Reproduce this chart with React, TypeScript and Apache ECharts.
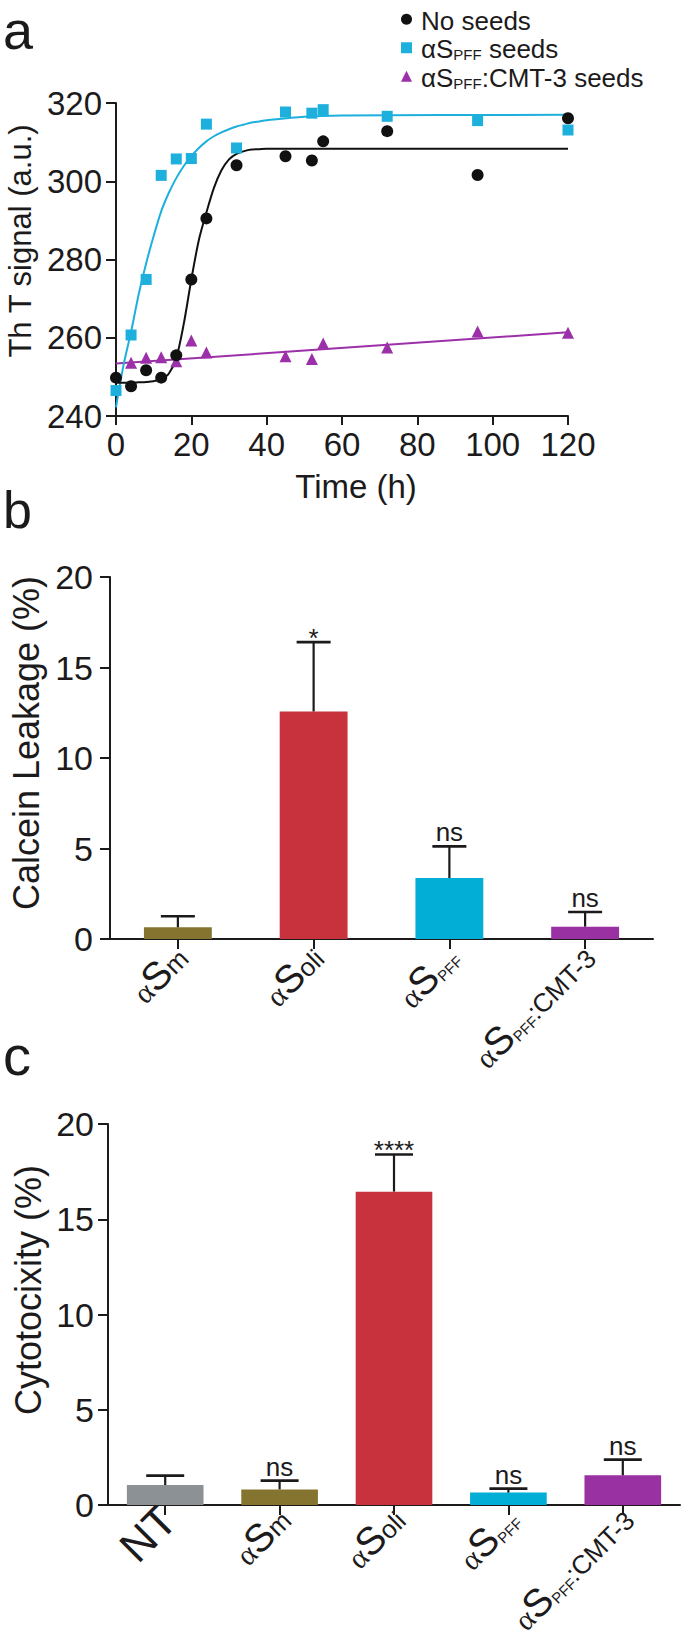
import React, { useEffect, useRef } from 'react';
import * as echarts from 'echarts';

// ---------- Panel a data ----------
const timeHours = [0, 4, 8, 12, 16, 20, 24, 32, 45, 52, 55, 72, 96, 120];
const noSeeds = [249.8, 247.6, 251.7, 249.8, 255.5, 274.9, 290.5, 304.1, 306.4, 305.3, 310.2, 312.8, 301.6, 316.1];
const pffSeeds = [246.5, 260.7, 274.9, 301.5, 305.7, 305.8, 314.6, 308.5, 317.7, 317.4, 318.3, 316.6, 315.5, 313.1];
const cmtTimes = [4, 8, 12, 16, 20, 24, 45, 52, 55, 72, 96, 120];
const cmtSeeds = [253.6, 254.9, 255.0, 254.0, 259.3, 256.2, 255.3, 254.6, 258.5, 257.5, 261.6, 261.3];

// fitted curves
const noSeedsFitT = [0, 2, 4, 6, 8, 10, 12, 14, 16, 18, 20, 22, 24, 26, 28, 30, 32, 34, 36, 38, 40, 120];
const noSeedsFit = [248.5, 248.5, 248.5, 248.6, 248.7, 248.9, 249.4, 250.8, 254.8, 263.6, 274.9, 285.0, 292.0, 298.3, 302.8, 305.6, 307.0, 307.7, 308.1, 308.2, 308.3, 308.3];
const pffFitT = [0, 2, 4, 6, 8, 10, 12, 14, 16, 18, 20, 22, 24, 26, 28, 30, 32, 34, 36, 38, 40, 50, 60, 120];
const pffFit = [242.2, 253.0, 261.5, 271.0, 279.0, 286.0, 292.3, 297.0, 300.8, 303.9, 306.4, 308.5, 310.2, 311.5, 312.5, 313.3, 314.0, 314.5, 315.0, 315.3, 315.6, 316.5, 316.8, 317.0];
const cmtFitT = [0, 120];
const cmtFit = [253.4, 261.4];

const timeTicks = [0, 20, 40, 60, 80, 100, 120];
const thtTicks = [240, 260, 280, 300, 320];

// ---------- Panel b data ----------
const leakageCats = ['αSm', 'αSoli', 'αSPFF', 'αSPFF:CMT-3'];
const leakageMean = [0.65, 12.57, 3.37, 0.68];
const leakageErr = [0.61, 3.83, 1.75, 0.81];
const leakageSig = ['', '*', 'ns', 'ns'];

// ---------- Panel c data ----------
const cytoCats = ['NT', 'αSm', 'αSoli', 'αSPFF', 'αSPFF:CMT-3'];
const cytoMean = [1.05, 0.82, 16.45, 0.65, 1.56];
const cytoErr = [0.49, 0.46, 1.95, 0.21, 0.82];
const cytoSig = ['', 'ns', '****', 'ns', 'ns'];

const percentTicks = [0, 5, 10, 15, 20];

// ---------- styles ----------
const FONT = 'Liberation Sans';
const SERIF = 'Liberation Serif';
const INK = '#1c1a1b';
const catColor: Record<string, string> = {
  NT: '#8c9195',
  'αSm': '#85742f',
  'αSoli': '#c8323c',
  'αSPFF': '#02aed6',
  'αSPFF:CMT-3': '#9a31a3',
};
const BLUE = '#1eb0dd';
const PURPLE = '#9c30a8';

type Token = { text: string; size: number; family: string; dy: number };

// split a category name into styled pieces (Greek alpha, big S, small rest, subscript PFF)
function catTokens(c: string): Token[] {
  if (!c.startsWith('αS')) return [{ text: c, size: 44, family: FONT, dy: -1 }];
  const toks: Token[] = [
    { text: 'α', size: 30, family: SERIF, dy: 3 },
    { text: 'S', size: 39, family: FONT, dy: 0 },
  ];
  let rest = c.slice(2);
  if (rest.startsWith('PFF')) {
    toks.push({ text: 'PFF', size: 15, family: FONT, dy: 10.5 });
    rest = rest.slice(3);
  }
  if (rest) toks.push({ text: rest, size: 26, family: FONT, dy: 4.5 });
  return toks;
}

let measureCtx: CanvasRenderingContext2D | null = null;
function measure(text: string, size: number, family: string): number {
  if (!measureCtx) measureCtx = document.createElement('canvas').getContext('2d');
  if (!measureCtx) return text.length * size * 0.55;
  measureCtx.font = `${size}px "${family}"`;
  return measureCtx.measureText(text).width;
}

function legendLabel(name: string): string {
  if (name.startsWith('αSPFF')) {
    return `{t|αS}{p|PFF}{t|${name.slice(5)}}`;
  }
  return `{t|${name}}`;
}

function zip(xs: number[], ys: number[]) {
  return xs.map((x, i) => [x, ys[i]]);
}

function makeErrorRender(sigs: string[], capHalf: number) {
  return (params: any, api: any) => {
    const i = params.dataIndex;
    const m = api.value(1);
    const e = api.value(2);
    const base = api.coord([i, m]);
    const top = api.coord([i, m + e]);
    const children: any[] = [
      { type: 'line', shape: { x1: base[0], y1: base[1], x2: top[0], y2: top[1] }, style: { stroke: INK, lineWidth: 2.2 } },
      { type: 'line', shape: { x1: top[0] - capHalf, y1: top[1], x2: top[0] + capHalf, y2: top[1] }, style: { stroke: INK, lineWidth: 2.6 } },
    ];
    const sig = sigs[i];
    if (sig) {
      const star = sig.indexOf('*') >= 0;
      children.push({
        type: 'text',
        x: top[0],
        y: star ? top[1] + 9 : top[1] - 1,
        style: { text: sig, fontFamily: FONT, fontSize: 26, fill: INK, align: 'center', verticalAlign: 'bottom' },
      });
    }
    return { type: 'group', children };
  };
}

function valueAxisCommon(min: number, max: number, interval: number, labelMargin: number, labelShift: number, fontSize: number) {
  return {
    type: 'value',
    min,
    max,
    interval,
    splitLine: { show: false },
    axisLine: { show: true, lineStyle: { color: INK, width: 2 } },
    axisTick: { show: true, length: 10, lineStyle: { color: INK, width: 2 } },
    axisLabel: {
      color: INK,
      fontFamily: FONT,
      fontSize,
      margin: labelMargin,
      padding: [0, 0, labelShift * 2, 0],
    },
  };
}

function categoryAxis(gridIndex: number, cats: string[]) {
  return {
    type: 'category',
    gridIndex,
    data: cats,
    axisLine: { show: true, lineStyle: { color: INK, width: 2 } },
    axisTick: { show: true, alignWithLabel: true, length: 10, lineStyle: { color: INK, width: 2 } },
    axisLabel: { show: false },
  };
}

const ROT = Math.PI / 4;

export default function App() {
  const ref = useRef<HTMLDivElement>(null);

  useEffect(() => {
    document.body.style.margin = '0';
    if (!ref.current) return;
    const chart = echarts.init(ref.current, undefined, { renderer: 'svg' });

    const baseGraphic: any[] = [
      { type: 'text', x: 3, y: 30, style: { text: 'a', fontFamily: FONT, fontSize: 54, fill: INK, align: 'left', verticalAlign: 'middle' } },
      { type: 'text', x: 3, y: 510, style: { text: 'b', fontFamily: FONT, fontSize: 52, fill: INK, align: 'left', verticalAlign: 'middle' } },
      { type: 'text', x: 3, y: 1055, style: { text: 'c', fontFamily: FONT, fontSize: 56, fill: INK, align: 'left', verticalAlign: 'middle' } },
      { type: 'text', x: 20, y: 241, rotation: Math.PI / 2, style: { text: 'Th T signal (a.u.)', fontFamily: FONT, fontSize: 31, fill: INK, align: 'center', verticalAlign: 'middle' } },
      { type: 'text', x: 356, y: 486, style: { text: 'Time (h)', fontFamily: FONT, fontSize: 33, fill: INK, align: 'center', verticalAlign: 'middle' } },
      { type: 'text', x: 26, y: 743, rotation: Math.PI / 2, style: { text: 'Calcein Leakage (%)', fontFamily: FONT, fontSize: 36, fill: INK, align: 'center', verticalAlign: 'middle' } },
      { type: 'text', x: 28, y: 1290, rotation: Math.PI / 2, style: { text: 'Cytotocixity (%)', fontFamily: FONT, fontSize: 36, fill: INK, align: 'center', verticalAlign: 'middle' } },
    ];

    const option: any = {
      animation: false,
      backgroundColor: '#ffffff',
      grid: [
        { left: 116, top: 103, width: 452, height: 313 },
        { left: 110, top: 577, width: 543, height: 362 },
        { left: 108, top: 1124, width: 572, height: 381 },
      ],
      legend: {
        data: ['No seeds', 'αSPFF seeds', 'αSPFF:CMT-3 seeds'],
        orient: 'vertical',
        left: 396,
        top: 0,
        itemWidth: 11,
        itemHeight: 11,
        itemGap: 0,
        selectedMode: false,
        formatter: legendLabel,
        textStyle: {
          color: INK,
          fontFamily: FONT,
          fontSize: 26,
          lineHeight: 28.5,
          padding: [0, 0, 0, 4],
          rich: {
            t: { fontFamily: FONT, fontSize: 26, color: INK, verticalAlign: 'bottom' },
            p: { fontFamily: FONT, fontSize: 15, color: INK, verticalAlign: 'bottom' },
          },
        },
      },
      xAxis: [
        {
          type: 'value',
          gridIndex: 0,
          min: timeTicks[0],
          max: timeTicks[timeTicks.length - 1],
          interval: timeTicks[1] - timeTicks[0],
          splitLine: { show: false },
          axisLine: { show: true, lineStyle: { color: INK, width: 2 } },
          axisTick: { show: true, length: 9, lineStyle: { color: INK, width: 2 } },
          axisLabel: { color: INK, fontFamily: FONT, fontSize: 33, margin: 12 },
        },
        categoryAxis(1, leakageCats),
        categoryAxis(2, cytoCats),
      ],
      yAxis: [
        { gridIndex: 0, ...valueAxisCommon(thtTicks[0], thtTicks[thtTicks.length - 1], thtTicks[1] - thtTicks[0], 14, 6, 33) },
        { gridIndex: 1, ...valueAxisCommon(percentTicks[0], percentTicks[percentTicks.length - 1], percentTicks[1] - percentTicks[0], 17, 11, 34) },
        { gridIndex: 2, ...valueAxisCommon(percentTicks[0], percentTicks[percentTicks.length - 1], percentTicks[1] - percentTicks[0], 14, 10, 34) },
      ],
      series: [
        {
          type: 'line', name: 'cmt fit', xAxisIndex: 0, yAxisIndex: 0, data: zip(cmtFitT, cmtFit),
          showSymbol: false, lineStyle: { color: PURPLE, width: 2 }, silent: true, z: 1,
        },
        {
          type: 'line', name: 'pff fit', xAxisIndex: 0, yAxisIndex: 0, data: zip(pffFitT, pffFit),
          showSymbol: false, smooth: 0.3, lineStyle: { color: BLUE, width: 2 }, silent: true, z: 1,
        },
        {
          type: 'line', name: 'no seeds fit', xAxisIndex: 0, yAxisIndex: 0, data: zip(noSeedsFitT, noSeedsFit),
          showSymbol: false, smooth: 0.3, lineStyle: { color: '#111111', width: 2 }, silent: true, z: 1,
        },
        {
          type: 'scatter', name: 'αSPFF:CMT-3 seeds', xAxisIndex: 0, yAxisIndex: 0, data: zip(cmtTimes, cmtSeeds),
          symbol: 'triangle', symbolSize: 12, itemStyle: { color: PURPLE, opacity: 1 }, z: 3,
        },
        {
          type: 'scatter', name: 'No seeds', xAxisIndex: 0, yAxisIndex: 0, data: zip(timeHours, noSeeds),
          symbol: 'circle', symbolSize: 12, itemStyle: { color: '#111111', opacity: 1 }, z: 4,
        },
        {
          type: 'scatter', name: 'αSPFF seeds', xAxisIndex: 0, yAxisIndex: 0, data: zip(timeHours, pffSeeds),
          symbol: 'rect', symbolSize: 11, itemStyle: { color: BLUE, opacity: 1 }, z: 5,
        },
        {
          type: 'bar', name: 'Calcein Leakage', xAxisIndex: 1, yAxisIndex: 1, barWidth: '50%',
          data: leakageMean.map((v, i) => ({ value: v, itemStyle: { color: catColor[leakageCats[i]] } })),
        },
        {
          type: 'custom', name: 'leakage err', xAxisIndex: 1, yAxisIndex: 1, z: 5,
          data: leakageMean.map((v, i) => [i, v, leakageErr[i]]),
          encode: { x: 0, y: 1 },
          renderItem: makeErrorRender(leakageSig, 17),
        },
        {
          type: 'bar', name: 'Cytotoxicity', xAxisIndex: 2, yAxisIndex: 2, barWidth: '67%',
          data: cytoMean.map((v, i) => ({ value: v, itemStyle: { color: catColor[cytoCats[i]] } })),
        },
        {
          type: 'custom', name: 'cyto err', xAxisIndex: 2, yAxisIndex: 2, z: 5,
          data: cytoMean.map((v, i) => [i, v, cytoErr[i]]),
          encode: { x: 0, y: 1 },
          renderItem: makeErrorRender(cytoSig, 19),
        },
      ],
      graphic: baseGraphic,
    };

    chart.setOption(option);

    // 45° category labels, anchored on the axes' own tick positions
    const labelGraphic: any[] = [];
    const ux = Math.cos(ROT), uy = -Math.sin(ROT); // reading direction
    const vx = Math.sin(ROT), vy = Math.cos(ROT); // text "down"
    const addLabels = (cats: string[], axisIdx: number, dx: number, dy: number) => {
      const y0 = chart.convertToPixel({ yAxisIndex: axisIdx }, 0) as unknown as number;
      cats.forEach((c) => {
        const x0 = chart.convertToPixel({ xAxisIndex: axisIdx }, c) as unknown as number;
        const ex = x0 + dx, ey = y0 + dy;
        const toks = catTokens(c);
        const widths = toks.map((t) => measure(t.text, t.size, t.family));
        const total = widths.reduce((a, b) => a + b, 0);
        let s = -total;
        toks.forEach((t, k) => {
          const mid = s + widths[k] / 2;
          s += widths[k];
          labelGraphic.push({
            type: 'text',
            x: ex + ux * mid + vx * t.dy,
            y: ey + uy * mid + vy * t.dy,
            rotation: ROT,
            style: { text: t.text, fontSize: t.size, fontFamily: t.family, fill: INK, align: 'center', verticalAlign: 'middle' },
          });
        });
      });
    };
    addLabels(leakageCats, 1, 3, 12);
    addLabels(cytoCats, 2, 4, 8);

    chart.setOption({ graphic: [...baseGraphic, ...labelGraphic] });
    return () => chart.dispose();
  }, []);

  return <div ref={ref} style={{ width: 685, height: 1637 }} />;
}
